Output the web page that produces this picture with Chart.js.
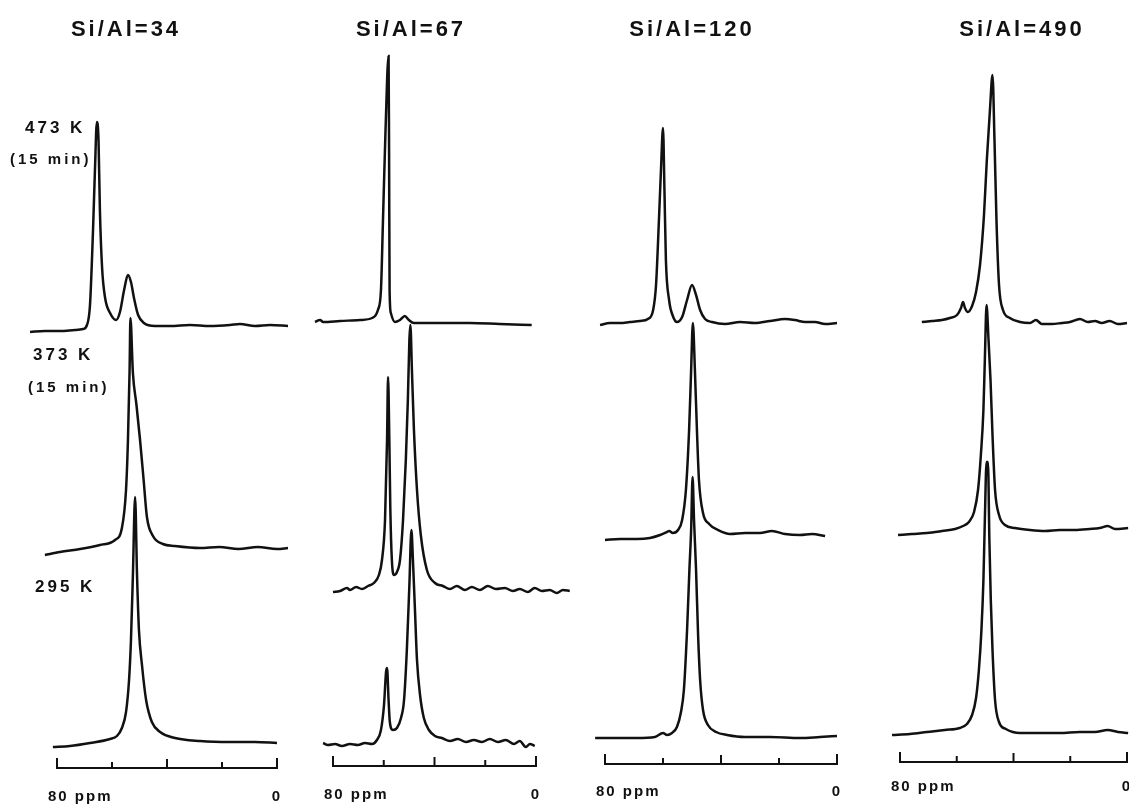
<!DOCTYPE html>
<html>
<head>
<meta charset="utf-8">
<script src="https://cdn.jsdelivr.net/npm/chart.js@4.4.1/dist/chart.umd.min.js"></script>
<style>
  body { margin: 0; background: #fff; }
  #wrap { position: relative; width: 1129px; height: 804px; overflow: hidden; }
  #wrap canvas { position: absolute; top: 0; }
</style>
</head>
<body>
<div id="wrap">
  <canvas id="col0" width="300" height="804" style="left:0px"></canvas>
  <canvas id="col1" width="280" height="804" style="left:300px"></canvas>
  <canvas id="col2" width="290" height="804" style="left:580px"></canvas>
  <canvas id="col3" width="259" height="804" style="left:870px"></canvas>
</div>
<script>
// labels
const columnTitles = ['Si/Al=34', 'Si/Al=67', 'Si/Al=120', 'Si/Al=490'];
const tempLabels = ['473 K', '373 K', '295 K'];
const timeLabel = '(15 min)';
const ticksPpm = [80, 60, 40, 20, 0];
const axisLabels = ['80 ppm', '0'];

// Si/Al=34 spectra (ppm, intensity a.u.)
const ppm34_473 = [89.8, 84.4, 78.9, 73.5, 70.5, 69.1, 68.0, 66.9, 66.2, 65.5, 64.9, 64.4, 63.6, 62.5, 60.7, 58.5, 57.1, 55.6, 54.2, 53.1, 52.0, 50.5, 48.4, 44.4, 38.9, 31.6, 24.4, 17.1, 13.5, 8.0, 2.5, -4.0];
const int34_473 = [-2, -1.5, -1.5, -1, -0.5, 1.5, 11.5, 49, 79, 103, 94, 59, 30, 15, 7.5, 4, 8, 19, 26.5, 23, 15, 6.5, 2.5, 1, 1, 1.5, 1, 1.5, 2, 1, 1.5, 1];
const ppm34_373 = [84.4, 78.9, 71.6, 64.4, 58.9, 56.4, 54.9, 54.2, 53.6, 53.3, 52.4, 51.1, 49.8, 48.5, 47.3, 45.1, 41.5, 37.1, 28.0, 21.0, 14.0, 7.0, 0.0, -4.0];
const int34_373 = [-3.5, -2, -0.5, 1.5, 4, 10, 29, 54, 89, 115, 87.5, 71.5, 54, 34, 15.5, 6, 2, 1, 0, 0.5, -0.5, 0.5, -0.5, 0];
const ppm34_295 = [81.5, 75.3, 68.0, 60.7, 58.2, 56.4, 54.9, 53.8, 53.1, 52.4, 51.6, 50.9, 50.2, 49.1, 47.6, 45.5, 42.5, 37.1, 28.0, 17.1, 8.0, 0.0];
const int34_295 = [-2.5, -2, -0.5, 1.5, 3, 7, 15, 31, 51, 83.5, 122.5, 83.5, 56, 38.5, 21, 10, 5, 2, 0.5, 0, 0, -0.5];

// Si/Al=67
const ppm67_473 = [87.1, 85.1, 83.9, 77.2, 69.4, 64.6, 62.3, 61.1, 60.3, 59.3, 58.1, 57.9, 57.7, 57.2, 55.6, 53.6, 51.7, 50.1, 48.1, 37.9, 26.1, 14.3, 1.7];
const int67_473 = [0.5, 1.5, 0.5, 1, 1.5, 2.5, 6.5, 16.5, 51.5, 96.5, 133.5, 86.5, 16.5, 5, 0.5, 1.5, 3.5, 1.5, 0, 0, 0, -0.5, -1];
const ppm67_373 = [80, 77.2, 74.5, 73.3, 70.9, 68.6, 66.2, 63.9, 61.9, 60.7, 59.5, 58.7, 58.3, 57.8, 57.4, 56.8, 56.0, 54.8, 53.6, 52.4, 51.3, 50.5, 49.9, 49.5, 48.9, 48.1, 46.9, 45.4, 43.0, 39.8, 36.7, 33.9, 31.2, 28.0, 25.3, 22.1, 19.0, 15.8, 12.3, 9.1, 6.4, 3.2, 0.5, -2.3, -5.4, -8.2, -10.6, -13.3];
const int67_373 = [-1, -0.5, 1, 0, 1.5, 0.5, 2, 3.5, 7.5, 15, 35, 75, 106.5, 75, 40, 15, 7.5, 9, 15, 35, 65, 95, 125, 132.5, 110, 80, 50, 27.5, 10, 3.5, 2, 0.5, 2, 0, 1.5, 0, 2, 0.5, 1, -0.5, 0.5, -1, 1, -0.5, 0, -1.5, 0, -0.5];
const ppm67_295 = [83.9, 82.0, 79.2, 76.5, 73.3, 70.2, 67.4, 64.6, 62.7, 61.1, 59.9, 59.1, 58.7, 58.1, 57.6, 56.4, 54.8, 53.2, 52.0, 50.9, 49.9, 49.1, 48.5, 47.7, 46.9, 45.7, 44.2, 42.2, 39.8, 37.1, 33.9, 30.8, 27.6, 24.5, 21.3, 18.2, 15.0, 11.9, 8.7, 6.4, 4.0, 2.4, 0.5];
const int67_295 = [-0.5, -1.5, -1, -2, -1, -1.5, -0.5, -1, 1, 6, 18.5, 35, 37, 21, 10, 6, 7, 12, 21, 46, 78.5, 106, 91, 66, 41, 23.5, 12, 6, 3, 2, 0.5, 1.5, 0, 1, 0, 1.5, 0, 1, -1, 0.5, -2.5, -1, -2];

// Si/Al=120
const ppm120_473 = [81.7, 78.3, 74.8, 71.4, 67.9, 65.2, 63.4, 62.4, 61.4, 60.7, 60.0, 59.5, 59.0, 57.9, 56.6, 55.2, 53.4, 51.7, 50.0, 48.6, 47.2, 45.5, 43.1, 38.6, 33.4, 28.3, 23.1, 17.9, 14.5, 11.0, 7.6, 4.1, 0.0];
const int120_473 = [-1, 0, 0, 0.5, 1, 2, 6.5, 19, 51.5, 76.5, 97.5, 66.5, 31.5, 11.5, 3.5, 0.5, 3, 11.5, 19, 14, 6.5, 2, 0.5, -0.5, 0.5, 0, 1, 2, 1.5, 0.5, 0.5, -0.5, 0];
const ppm120_373 = [80, 74.8, 69.0, 64.5, 61.0, 58.6, 57.9, 56.6, 54.8, 53.4, 52.1, 51.0, 50.3, 49.7, 49.0, 48.3, 47.6, 46.2, 44.1, 41.0, 36.9, 31.7, 26.6, 22.4, 17.9, 12.8, 8.6, 4.1];
const int120_373 = [-2, -1.5, -1.5, -1, 0.5, 2, 2.5, 1.5, 3, 8, 23, 53, 83, 106.5, 83, 53, 28, 11.5, 6, 3, 1, 1.5, 1.5, 2.5, 1, 0.5, 1, 0];
const ppm120_295 = [83.4, 76.6, 69.0, 62.8, 60.0, 58.6, 56.9, 55.2, 53.8, 52.8, 51.7, 50.9, 50.3, 49.8, 49.3, 48.6, 47.9, 47.2, 46.2, 44.5, 41.7, 37.9, 31.7, 23.1, 12.8, 5.9, 0.0];
const int120_295 = [-0.5, -0.5, -0.5, 0, 2, 1, 2, 5, 12.5, 23.5, 53.5, 83.5, 103.5, 130, 108.5, 83.5, 51, 28.5, 13.5, 6, 2.5, 1, 0, 0, -0.5, 0, 0.5];

// Si/Al=490
const ppm490_473 = [72.3, 68.7, 65.2, 62.4, 59.9, 58.5, 57.8, 57.1, 56.1, 54.6, 53.2, 51.8, 50.4, 49.4, 48.3, 47.4, 46.7, 46.0, 45.1, 43.7, 41.3, 37.7, 34.2, 32.1, 30.0, 26.5, 23.0, 20.1, 16.6, 13.8, 11.3, 8.9, 6.1, 3.2, 0.0];
const int490_473 = [0, 0.5, 1, 2, 3.5, 7, 10, 7, 5, 8, 15, 28.5, 53.5, 81, 106, 123.5, 91, 51, 18.5, 6, 2, 0, -0.5, 1, -1, -1, -0.5, 0, 1.5, 0, 0.5, -0.5, 0.5, -1, -0.5];
const ppm490_373 = [80.7, 75.8, 70.5, 65.2, 60.6, 57.8, 55.7, 53.9, 52.5, 51.5, 50.6, 50.1, 49.5, 48.8, 48.1, 47.4, 46.5, 45.1, 43.0, 39.5, 34.2, 28.9, 23.7, 18.4, 13.1, 9.6, 6.8, 4.2, -0.4];
const int490_373 = [-2.5, -2, -1.5, -0.5, 0.5, 2, 4, 9, 20, 37.5, 60, 85, 112.5, 95, 75, 47.5, 20, 7.5, 2.5, 1, 0, -0.5, 0, 0, 0.5, 1, 2, 0.5, 1];
const ppm490_295 = [82.8, 76.5, 70.5, 64.2, 58.9, 56.4, 54.6, 53.2, 52.2, 51.3, 50.6, 50.1, 49.5, 49.0, 48.5, 48.0, 47.4, 46.5, 45.1, 42.7, 37.7, 30.7, 23.7, 16.6, 11.3, 6.8, 3.2, -0.4];
const int490_295 = [-1, -0.5, 0.5, 1.5, 2.5, 4.5, 9, 17.5, 31.5, 51.5, 76.5, 106.5, 135.5, 135.5, 96.5, 66.5, 41.5, 16.5, 5.5, 2, 0, 0, 0, 0.5, 0.5, 1.5, 0.5, 0];

const spectra = [
  [[ppm34_473, int34_473], [ppm34_373, int34_373], [ppm34_295, int34_295]],
  [[ppm67_473, int67_473], [ppm67_373, int67_373], [ppm67_295, int67_295]],
  [[ppm120_473, int120_473], [ppm120_373, int120_373], [ppm120_295, int120_295]],
  [[ppm490_473, int490_473], [ppm490_373, int490_373], [ppm490_295, int490_295]]
];

// page layout (pixels)
const H = 804;
const pxPerUnit = 2;
const ink = '#111';
const font = '"Liberation Sans", Arial, sans-serif';
const cols = [
  { left: 0,   width: 300, x80: 57,  x0: 277,  axisY: 768, labelY: 797, titleX: 126,  base: [328, 548, 742] },
  { left: 300, width: 280, x80: 333, x0: 536,  axisY: 766, labelY: 795, titleX: 411,  base: [323, 590, 742] },
  { left: 580, width: 290, x80: 605, x0: 837,  axisY: 764, labelY: 792, titleX: 692,  base: [323, 536, 737] },
  { left: 870, width: 259, x80: 900, x0: 1127, axisY: 762, labelY: 787, titleX: 1022, base: [322, 530, 733] }
];
const tempPos = [[25, 128], [33, 355], [35, 587]];
const timePos = [[10, 160], [28, 388]];

const figurePlugin = {
  id: 'figure',
  afterDraw(chart, args, opts) {
    const ctx = chart.ctx;
    const xs = chart.scales.x;
    ctx.save();
    ctx.fillStyle = ink;
    ctx.strokeStyle = ink;

    // column title
    ctx.font = 'bold 22px ' + font;
    ctx.letterSpacing = '3px';
    ctx.textAlign = 'center';
    ctx.textBaseline = 'middle';
    ctx.fillText(opts.title, opts.titleX, 30);

    // ppm bracket axis
    const y = opts.axisY;
    ctx.lineWidth = 2;
    ctx.beginPath();
    ctx.moveTo(xs.getPixelForValue(80), y);
    ctx.lineTo(xs.getPixelForValue(0), y);
    ticksPpm.forEach(v => {
      const px = xs.getPixelForValue(v);
      const len = (v === 80 || v === 0) ? 10 : (v === 40 ? 9 : 6);
      ctx.moveTo(px, y + 1);
      ctx.lineTo(px, y - len);
    });
    ctx.stroke();

    ctx.font = 'bold 15px ' + font;
    ctx.letterSpacing = '2px';
    ctx.textAlign = 'left';
    ctx.fillText(axisLabels[0], xs.getPixelForValue(80) - 9, opts.labelY);
    ctx.textAlign = 'center';
    ctx.fillText(axisLabels[1], xs.getPixelForValue(0), opts.labelY);

    // temperature labels, first column only
    if (opts.side) {
      ctx.textAlign = 'left';
      ctx.font = 'bold 17px ' + font;
      ctx.letterSpacing = '3px';
      tempLabels.forEach((t, i) => ctx.fillText(t, tempPos[i][0], tempPos[i][1]));
      ctx.font = 'bold 15px ' + font;
      ctx.letterSpacing = '3px';
      timePos.forEach(p => ctx.fillText(timeLabel, p[0], p[1]));
    }
    ctx.restore();
  }
};

cols.forEach((c, ci) => {
  const k = (c.x0 - c.x80) / 80;
  const scales = {
    x: {
      type: 'linear', reverse: true, display: false,
      max: 80 + (c.x80 - c.left) / k,
      min: -(c.left + c.width - c.x0) / k
    }
  };
  c.base.forEach((b, i) => {
    scales['y' + i] = { type: 'linear', display: false, max: b / pxPerUnit, min: -(H - b) / pxPerUnit };
  });

  new Chart(document.getElementById('col' + ci), {
    type: 'line',
    data: {
      datasets: spectra[ci].map((s, i) => ({
        label: columnTitles[ci] + ' ' + tempLabels[i],
        data: s[0].map((p, j) => ({ x: p, y: s[1][j] })),
        yAxisID: 'y' + i,
        borderColor: ink,
        borderWidth: 2.5,
        pointRadius: 0,
        fill: false,
        cubicInterpolationMode: 'monotone',
        clip: false
      }))
    },
    options: {
      responsive: false,
      animation: false,
      devicePixelRatio: 1,
      events: [],
      layout: { padding: 0 },
      scales: scales,
      plugins: {
        legend: { display: false },
        tooltip: { enabled: false },
        figure: {
          title: columnTitles[ci],
          titleX: c.titleX - c.left,
          axisY: c.axisY,
          labelY: c.labelY,
          side: ci === 0
        }
      }
    },
    plugins: [figurePlugin]
  });
});
</script>
</body>
</html>
